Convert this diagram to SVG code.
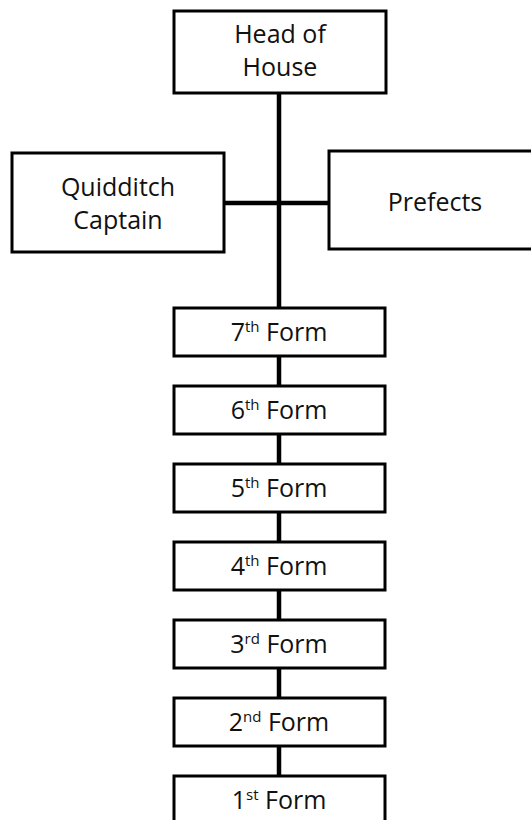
<svg xmlns="http://www.w3.org/2000/svg" width="531" height="820" viewBox="0 0 531 820">
<style>
.box{fill:#fff;stroke:#000;stroke-width:3}
.lbl{font-family:"Open Sans","Liberation Sans",sans-serif;font-size:25px;fill:#111;text-anchor:middle}
.sup{font-size:15px}
.conn{stroke:#000;stroke-width:4.5;fill:none}
</style>
<rect width="531" height="820" fill="#fff"/>
<g id="connectors">
<line class="conn" x1="279" y1="93" x2="279" y2="308"/>
<line class="conn" x1="224" y1="203" x2="329" y2="203"/>
<line class="conn" x1="279" y1="356" x2="279" y2="386"/>
<line class="conn" x1="279" y1="434" x2="279" y2="464"/>
<line class="conn" x1="279" y1="512" x2="279" y2="542"/>
<line class="conn" x1="279" y1="590" x2="279" y2="620"/>
<line class="conn" x1="279" y1="668" x2="279" y2="698"/>
<line class="conn" x1="279" y1="746" x2="279" y2="776"/>
</g>
<g id="head">
<rect class="box" x="174" y="11" width="212" height="82"/>
<text class="lbl" x="280" y="43">Head of</text>
<text class="lbl" x="280" y="76">House</text>
</g>
<g id="quidditch">
<rect class="box" x="12" y="153" width="212" height="99"/>
<text class="lbl" x="118" y="196">Quidditch</text>
<text class="lbl" x="118" y="229">Captain</text>
</g>
<g id="prefects">
<rect class="box" x="329" y="151" width="206" height="98"/>
<text class="lbl" x="435" y="211">Prefects</text>
</g>
<g id="form7">
<rect class="box" x="174" y="308" width="211" height="48"/>
<text class="lbl" x="279" y="341">7<tspan class="sup" dy="-9">th</tspan><tspan dy="9"> Form</tspan></text>
</g>
<g id="form6">
<rect class="box" x="174" y="386" width="211" height="48"/>
<text class="lbl" x="279" y="419">6<tspan class="sup" dy="-9">th</tspan><tspan dy="9"> Form</tspan></text>
</g>
<g id="form5">
<rect class="box" x="174" y="464" width="211" height="48"/>
<text class="lbl" x="279" y="497">5<tspan class="sup" dy="-9">th</tspan><tspan dy="9"> Form</tspan></text>
</g>
<g id="form4">
<rect class="box" x="174" y="542" width="211" height="48"/>
<text class="lbl" x="279" y="575">4<tspan class="sup" dy="-9">th</tspan><tspan dy="9"> Form</tspan></text>
</g>
<g id="form3">
<rect class="box" x="174" y="620" width="211" height="48"/>
<text class="lbl" x="279" y="653">3<tspan class="sup" dy="-9">rd</tspan><tspan dy="9"> Form</tspan></text>
</g>
<g id="form2">
<rect class="box" x="174" y="698" width="211" height="48"/>
<text class="lbl" x="279" y="731">2<tspan class="sup" dy="-9">nd</tspan><tspan dy="9"> Form</tspan></text>
</g>
<g id="form1">
<rect class="box" x="174" y="776" width="211" height="48"/>
<text class="lbl" x="279" y="809">1<tspan class="sup" dy="-9">st</tspan><tspan dy="9"> Form</tspan></text>
</g>
</svg>
